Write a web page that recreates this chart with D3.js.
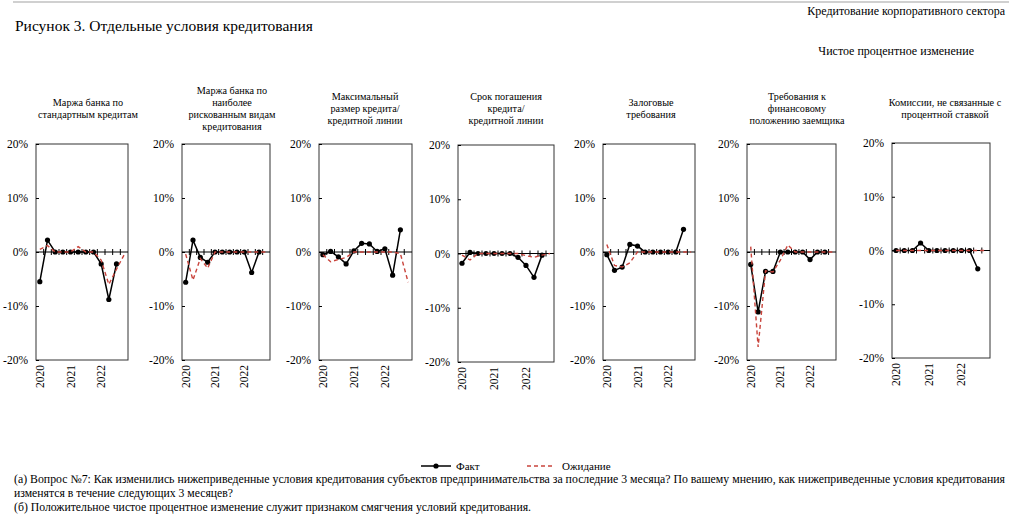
<!DOCTYPE html>
<html>
<head>
<meta charset="utf-8">
<script src="https://cdn.jsdelivr.net/npm/d3@7"></script>
<style>
  body { margin: 0; background: #fff; }
  svg text { font-family: "Liberation Serif", "DejaVu Serif", "Noto Serif", "Times New Roman", Times, serif; fill: #000; }
</style>
</head>
<body>
<svg id="canvas" width="1024" height="532" font-family="Liberation Serif, DejaVu Serif, serif"></svg>
<script>
// quarters on the category axis, Fact ends one quarter earlier than Ожидание
var QUARTERS = ["2020 Q1", "2020 Q2", "2020 Q3", "2020 Q4",
                "2021 Q1", "2021 Q2", "2021 Q3", "2021 Q4",
                "2022 Q1", "2022 Q2", "2022 Q3", "2022 Q4"];
var YEAR_TICKS = ["2020 Q1", "2021 Q1", "2022 Q1"];
var Y_TICKS = [20, 10, 0, -10, -20];

var TITLES = [
  ["Маржа банка по", "стандартным кредитам"],
  ["Маржа банка по", "наиболее", "рискованным видам", "кредитования"],
  ["Максимальный", "размер кредита/", "кредитной линии"],
  ["Срок погашения", "кредита/", "кредитной линии"],
  ["Залоговые", "требования"],
  ["Требования к", "финансовому", "положению заемщика"],
  ["Комиссии, не связанные с", "процентной ставкой"]
];

// net percentage change, %
var FACT_MARGIN_STD   = [-5.5, 2.2, 0, 0, 0, 0, 0, 0, -2.2, -8.8, -2.2];
var EXP_MARGIN_STD    = [0.5, 1.2, 0, 0, 0, 1.0, 0, 0, -1.5, -6.0, -3.2, -0.5];
var FACT_MARGIN_RISK  = [-5.6, 2.2, -1.0, -1.9, 0, 0, 0, 0, 0, -3.8, 0];
var EXP_MARGIN_RISK   = [-0.4, -5.2, -1.2, -3.0, 0, 0, 0, 0, 0, 0, 0, 0];
var FACT_LOAN_SIZE    = [-0.5, 0.1, -0.9, -2.2, 0.2, 1.6, 1.5, 0.1, 0.6, -4.3, 4.1];
var EXP_LOAN_SIZE     = [-0.5, -1.8, -1.4, -1.0, 0, 0, 0, 0, 0, 0, -0.3, -5.6];
var FACT_MATURITY     = [-1.8, 0.2, 0, 0, 0, 0, 0, -0.7, -2.2, -4.4, -0.3];
var EXP_MATURITY      = [-0.3, -1.2, 0, 0, 0, 0, 0, 0, -0.4, -0.7, -0.3, 0];
var FACT_COLLATERAL   = [-0.5, -3.4, -2.8, 1.4, 1.1, 0, 0, 0, 0, 0, 4.2];
var EXP_COLLATERAL    = [1.4, -2.5, -2.8, -2.0, 0, 0, 0, 0, 0, 0, 0, 0];
var FACT_FINANCIAL    = [-2.3, -11.1, -3.6, -3.6, 0, 0, 0, 0, -1.4, 0, 0];
var EXP_FINANCIAL     = [1.0, -17.6, -3.5, -3.7, -1.5, 1.3, 0, 0, 0, 0, 0, 0];
var FACT_FEES         = [0, 0, 0, 1.4, 0, 0, 0, 0, 0, 0, -3.4];
var EXP_FEES          = [0, 0, 0, 0, 0, 0, 0, 0, 0, 0, 0, 0];

var FACT = [FACT_MARGIN_STD, FACT_MARGIN_RISK, FACT_LOAN_SIZE, FACT_MATURITY,
            FACT_COLLATERAL, FACT_FINANCIAL, FACT_FEES];
var EXPECT = [EXP_MARGIN_STD, EXP_MARGIN_RISK, EXP_LOAN_SIZE, EXP_MATURITY,
              EXP_COLLATERAL, EXP_FINANCIAL, EXP_FEES];

// where each small chart sits on the page
var PANELS = [
  {x: 36,  w: 92, top: 144, bot: 360, tx: 88},
  {x: 182, w: 88, top: 144, bot: 360, tx: 232},
  {x: 319, w: 93, top: 144, bot: 360, tx: 365},
  {x: 458, w: 96, top: 145, bot: 362, tx: 506},
  {x: 603, w: 92, top: 144, bot: 360, tx: 651},
  {x: 747, w: 89, top: 144, bot: 360, tx: 797},
  {x: 892, w: 98, top: 143, bot: 358, tx: 945}
];

var RED = "#c9443c";
var SERIF = "Liberation Serif, DejaVu Serif, serif";
var svg = d3.select("#canvas");

svg.append("rect").attr("width", 1024).attr("height", 532).attr("fill", "#fff");

// header
svg.append("line")
  .attr("x1", 13).attr("x2", 1009).attr("y1", 2).attr("y2", 2)
  .attr("stroke", "#d0d0d0").attr("stroke-width", 2);
svg.append("text").attr("x", 1005).attr("y", 15).attr("text-anchor", "end")
  .attr("font-size", 12).text("Кредитование корпоративного сектора");
svg.append("text").attr("x", 15).attr("y", 31)
  .attr("font-size", 15.5).text("Рисунок 3. Отдельные условия кредитования");
svg.append("text").attr("x", 974).attr("y", 55).attr("text-anchor", "end")
  .attr("font-size", 12).text("Чистое процентное изменение");

function drawPanel(p, i) {
  let x = d3.scaleBand().domain(QUARTERS).range([p.x, p.x + p.w]);
  let y = d3.scaleLinear().domain([-20, 20]).range([p.bot, p.top]);
  let cx = function(d, k) { return x(QUARTERS[k]) + x.bandwidth() / 2; };
  let g = svg.append("g").attr("class", "panel");

  // title lines, centred on y=108
  let lines = TITLES[i];
  g.selectAll("text.title").data(lines).enter().append("text")
    .attr("class", "title")
    .attr("x", p.tx)
    .attr("y", (d, j) => 108 + (j - (lines.length - 1) / 2) * 12 + 3.5)
    .attr("text-anchor", "middle")
    .attr("font-size", 10.2)
    .text(d => d);

  g.append("rect")
    .attr("x", p.x).attr("y", p.top)
    .attr("width", p.w).attr("height", p.bot - p.top)
    .attr("fill", "none").attr("stroke", "#333").attr("stroke-width", 1);

  let yAxis = d3.axisLeft(y).tickValues(Y_TICKS).tickSize(-3).tickPadding(8)
    .tickFormat(d => d + "%");
  g.append("g").attr("transform", `translate(${p.x},0)`).call(yAxis)
    .attr("font-size", 11.5).attr("font-family", SERIF)
    .call(a => a.select(".domain").remove());

  // category axis at zero with crossing ticks on the quarter borders
  let y0 = y(0);
  g.append("line")
    .attr("x1", p.x).attr("x2", p.x + p.w).attr("y1", y0).attr("y2", y0)
    .attr("stroke", "#000").attr("stroke-width", 1.2);
  g.selectAll("line.qtick").data(QUARTERS.slice(1)).enter().append("line")
    .attr("class", "qtick")
    .attr("x1", d => x(d)).attr("x2", d => x(d))
    .attr("y1", y0 - 3).attr("y2", y0 + 3)
    .attr("stroke", "#000").attr("stroke-width", 1);

  let xAxis = d3.axisBottom(x).tickValues(YEAR_TICKS).tickSize(0)
    .tickFormat(d => d.slice(0, 4));
  g.append("g").attr("transform", `translate(0,${p.bot})`).call(xAxis)
    .attr("font-size", 11.5).attr("font-family", SERIF)
    .call(a => a.select(".domain").remove())
    .selectAll("text")
    .attr("transform", "rotate(-90)")
    .attr("text-anchor", "end")
    .attr("x", -5).attr("y", 0).attr("dy", "0.35em");

  let line = d3.line().x(cx).y(d => y(d));

  g.append("path").datum(FACT[i])
    .attr("d", line)
    .attr("fill", "none").attr("stroke", "#000").attr("stroke-width", 1.5);
  g.selectAll("circle").data(FACT[i]).enter().append("circle")
    .attr("cx", cx).attr("cy", d => y(d)).attr("r", 2.6).attr("fill", "#000");

  g.append("path").datum(EXPECT[i])
    .attr("d", line)
    .attr("fill", "none").attr("stroke", RED).attr("stroke-width", 1.4)
    .attr("stroke-dasharray", "4,3");
}

PANELS.forEach(drawPanel);

// legend
var lg = svg.append("g").attr("class", "legend");
lg.append("line").attr("x1", 421).attr("x2", 451).attr("y1", 466).attr("y2", 466)
  .attr("stroke", "#000").attr("stroke-width", 1.5);
lg.append("circle").attr("cx", 436).attr("cy", 466).attr("r", 2.6).attr("fill", "#000");
lg.append("text").attr("x", 456).attr("y", 469.5).attr("font-size", 11).text("Факт");
lg.append("line").attr("x1", 527).attr("x2", 555).attr("y1", 466).attr("y2", 466)
  .attr("stroke", RED).attr("stroke-width", 1.4).attr("stroke-dasharray", "4,3");
lg.append("text").attr("x", 562).attr("y", 469.5).attr("font-size", 11).text("Ожидание");

// footnotes
var NOTES = [
  {t: "(а) Вопрос №7: Как изменились нижеприведенные условия кредитования субъектов предпринимательства за последние 3 месяца? По вашему мнению, как нижеприведенные условия кредитования", y: 483, w: 991},
  {t: "изменятся в течение следующих 3 месяцев?", y: 497, w: 219},
  {t: "(б) Положительное чистое процентное изменение служит признаком смягчения условий кредитования.", y: 511, w: 517}
];
svg.selectAll("text.note").data(NOTES).enter().append("text")
  .attr("class", "note")
  .attr("x", 14).attr("y", d => d.y)
  .attr("font-size", 11.5)
  .attr("textLength", d => d.w)
  .attr("lengthAdjust", "spacingAndGlyphs")
  .text(d => d.t);
</script>
</body>
</html>
